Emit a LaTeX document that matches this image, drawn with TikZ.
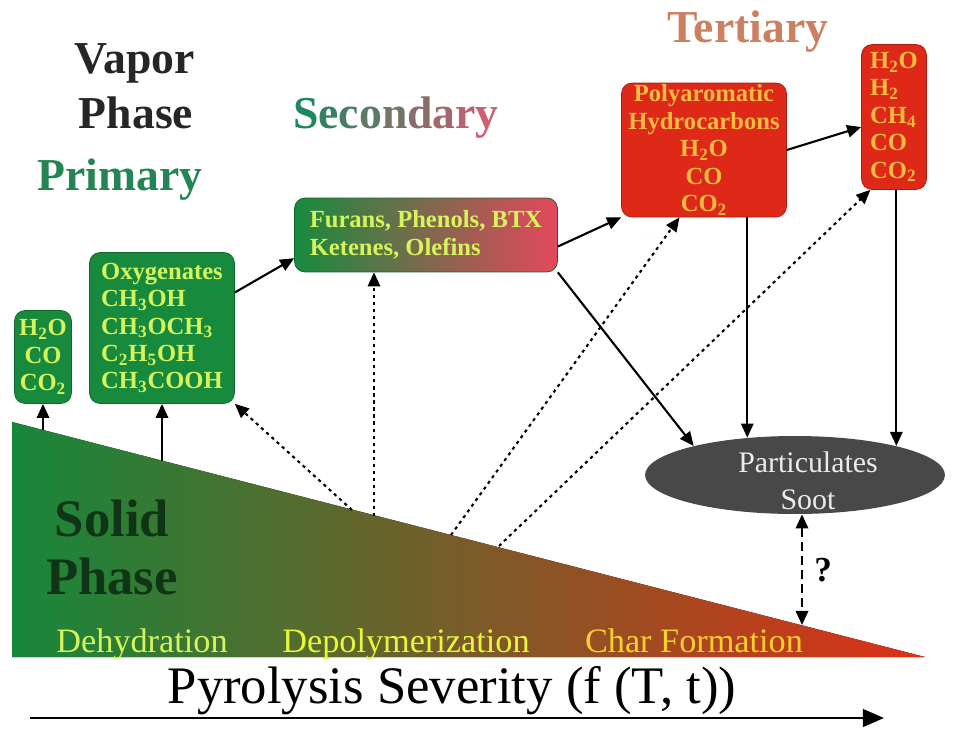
\documentclass[tikz,border=0pt]{standalone}
\usepackage{fontspec}
\setmainfont{Liberation Serif}
\usetikzlibrary{arrows.meta,shapes.geometric}

\definecolor{leafgreen}{RGB}{24,138,62}
\definecolor{leaftext}{RGB}{214,244,92}
\definecolor{emberred}{RGB}{222,40,24}
\definecolor{embertext}{RGB}{244,188,64}
\definecolor{rosered}{RGB}{228,72,92}
\definecolor{sootgray}{RGB}{72,72,72}
\definecolor{solidgreen}{RGB}{22,135,58}
\definecolor{solidolive}{RGB}{105,115,40}
\definecolor{solidred}{RGB}{222,48,22}
\definecolor{soliddark}{RGB}{16,52,22}
\definecolor{primgreen}{RGB}{36,132,84}
\definecolor{secgreen}{RGB}{30,135,95}
\definecolor{secrose}{RGB}{205,95,115}
\definecolor{tertsalmon}{RGB}{205,128,96}

\newcommand{\sub}[1]{\textsubscript{#1}}
\newcommand{\grade}[2]{\textcolor{secrose!#1!secgreen}{#2}}

\tikzset{
  heading/.style={anchor=base, font=\bfseries\fontsize{26}{28}\selectfont},
  stage/.style={anchor=base, font=\fontsize{19.5}{22}\selectfont},
  greenbox/.style={draw=leafgreen!75!black, fill=leafgreen, text=leaftext,
    rounded corners=6pt, inner sep=1pt, font=\bfseries\fontsize{14}{15.6}\selectfont},
  redbox/.style={draw=emberred!75!black, fill=emberred, text=embertext,
    rounded corners=6pt, inner sep=1pt, font=\bfseries\fontsize{14}{15.6}\selectfont},
  link/.style={-{Triangle[length=8pt,width=7pt]}, line width=1.2pt},
  dotlink/.style={link, dash pattern=on 1.8pt off 2.2pt},
}

\begin{document}
\begin{tikzpicture}[x=0.02cm, y=-0.02cm]
\useasboundingbox (0,0) rectangle (968,731);

% solid phase wedge
\fill[left color=solidgreen, middle color=solidolive, right color=solidred]
  (12,422) -- (925,657) -- (12,657) -- cycle;
\coordinate (t1) at (43,430);
\coordinate (t2) at (162,461);
\coordinate (t3) at (352,510);
\coordinate (t4) at (374,516);
\coordinate (t5) at (451,535);
\coordinate (t6) at (499,546);
\coordinate (t7) at (802,625);

\node[heading, text=soliddark, align=center, font=\bfseries\fontsize{30}{33}\selectfont] (solid) at (112,594) {Solid\\Phase};
\node[stage, text=leaftext] (dehyd) at (142,652) {Dehydration};
\node[stage, text=leaftext!60!yellow] (depol) at (406,652) {Depolymerization};
\node[stage, text=embertext!70!yellow] (charf) at (694,652) {Char Formation};

% headings
\node[heading, text=black!85] (vapor) at (135,73) {Vapor};
\node[heading, text=black!85] (phase) at (136,128) {Phase};
\node[heading, text=primgreen] (prim) at (120,190) {Primary};
\node[heading] (second) at (396,128) {\grade{0}{S}\grade{12}{e}\grade{25}{c}\grade{37}{o}\grade{50}{n}\grade{62}{d}\grade{75}{a}\grade{87}{r}\grade{100}{y}};
\node[heading, text=tertsalmon] (tert) at (748,42) {Tertiary};

% product boxes
\node[greenbox, minimum width=1.14cm, minimum height=1.86cm, align=center] (gasA) at (43,357)
  {H\sub{2}O\\CO\\CO\sub{2}};
\node[greenbox, minimum width=2.9cm, minimum height=3.02cm, align=left] (oxy) at (162,328)
  {Oxygenates\\CH\sub{3}OH\\CH\sub{3}OCH\sub{3}\\C\sub{2}H\sub{5}OH\\CH\sub{3}COOH};
\node[greenbox, left color=leafgreen, right color=rosered, minimum width=5.26cm, minimum height=1.48cm, align=left] (sec) at (426,235)
  {Furans, Phenols, BTX\\Ketenes, Olefins};
\node[redbox, minimum width=3.3cm, minimum height=2.68cm, align=center] (pah) at (704,150)
  {Polyaromatic\\Hydrocarbons\\H\sub{2}O\\CO\\CO\sub{2}};
\node[redbox, minimum width=1.3cm, minimum height=2.9cm, align=left] (gasE) at (894,117)
  {H\sub{2}O\\H\sub{2}\\CH\sub{4}\\CO\\CO\sub{2}};
\node[ellipse, fill=sootgray, minimum width=6cm, minimum height=1.56cm] (soot) at (795,475) {};
\node[text=black!8, align=center, font=\fontsize{17}{21}\selectfont] (sootlbl) at (808,481) {Particulates\\Soot};

% pathways
\draw[link] (t1) -- (gasA.south);
\draw[link] (t2) -- (oxy.south);
\draw[dotlink] (t3) -- (oxy.south east);
\draw[dotlink] (t4) -- (t4 |- sec.south);
\draw[dotlink] (t5) -- (pah.250);
\draw[dotlink] (t6) -- (gasE.252);
\draw[link] (oxy.26) -- (sec.190);
\draw[link] (sec.-5) -- (pah.south west);
\draw[link] (pah.east) -- (gasE.197);
\draw[link] (sec.south east) -- (soot.164);
\draw[link] (soot.142 |- pah.south) -- (soot.142);
\draw[link] (soot.16 |- gasE.south) -- (soot.16);
\draw[{Triangle[length=8pt,width=7pt]}-{Triangle[length=8pt,width=7pt]}, line width=1.4pt, dash pattern=on 5pt off 3pt]
  (t7 |- soot.south) -- node[right=3pt, font=\bfseries\fontsize{20}{22}\selectfont] {?} (t7);

% severity axis
\node[anchor=base, font=\fontsize{30}{33}\selectfont] (sev) at (452,703) {Pyrolysis Severity (f (T, t))};
\coordinate (axisL) at (30,718);
\coordinate (axisR) at (884,718);
\draw[-{Triangle[length=12pt,width=10pt]}, line width=1.5pt] (axisL) -- (axisR);
\end{tikzpicture}
\end{document}
